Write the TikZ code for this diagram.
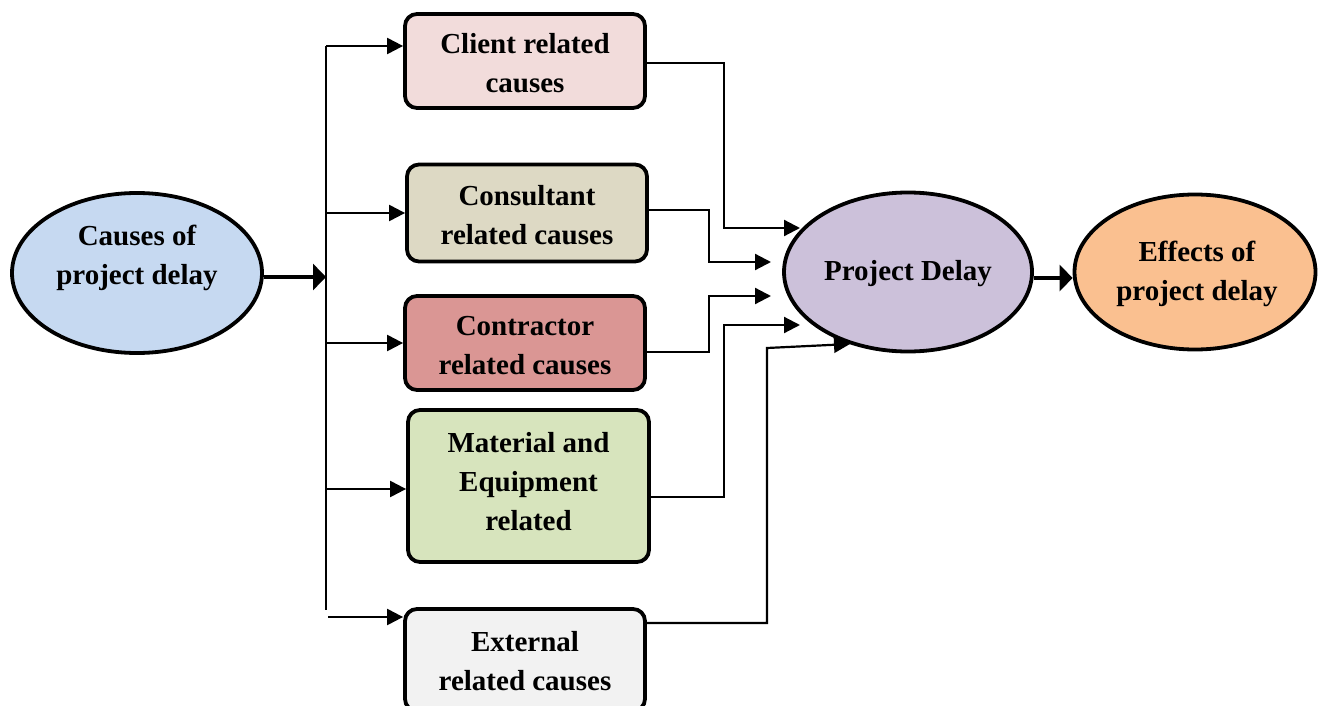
\documentclass[tikz,border=0pt]{standalone}
\usepackage{fontspec}
\setmainfont{Liberation Serif}
\usetikzlibrary{shapes.geometric,arrows.meta,calc}
\definecolor{cCauses}{HTML}{C6D9F1}
\definecolor{cClient}{HTML}{F2DCDB}
\definecolor{cConsult}{HTML}{DDD9C4}
\definecolor{cContr}{HTML}{DA9694}
\definecolor{cMat}{HTML}{D7E4BD}
\definecolor{cExt}{HTML}{F2F2F2}
\definecolor{cPD}{HTML}{CCC1DA}
\definecolor{cEff}{HTML}{FAC090}
\begin{document}
\begin{tikzpicture}[x=1pt,y=-1pt,
  lbl/.style={align=center,inner sep=0pt,font=\fontsize{29}{39}\selectfont\bfseries},
  box/.style={lbl,draw,line width=3.8pt,rounded corners=12pt,minimum width=240pt},
  oval/.style={lbl,ellipse,draw,line width=3.8pt},
  conn/.style={line width=2.2pt,-{Triangle[length=16pt,width=16pt]}},
  bigconn/.style={line width=4.5pt,-{Triangle[length=13pt,width=26pt]}}
]
\useasboundingbox (0,0) rectangle (1324,706);

% left ellipse
\node[oval,fill=cCauses,minimum width=250pt,minimum height=160pt] (causes) at (137,273) {};
\node[lbl] (causestxt) at (137,258) {Causes of\\project delay};

% cause boxes
\node[box,fill=cClient,minimum height=94pt] (client) at (525,61) {};
\node[lbl] (clienttxt) at (525,63) {Client related\\causes};
\node[box,fill=cConsult,minimum height=97pt] (consultant) at (527,213) {};
\node[lbl] (consulttxt) at (527,215) {Consultant\\related causes};
\node[box,fill=cContr,minimum height=94pt] (contractor) at (525,343) {};
\node[lbl] (contrtxt) at (525,346) {Contractor\\related causes};
\node[box,fill=cMat,minimum width=241pt,minimum height=152pt] (material) at (528.5,486) {};
\node[lbl] (mattxt) at (528.5,482) {Material and\\Equipment\\related};
\node[box,fill=cExt,minimum height=102pt] (external) at (525,660) {};
\node[lbl] (exttxt) at (525,661) {External\\related causes};

% right ellipses
\node[oval,fill=cPD,minimum width=248pt,minimum height=159pt] (pd) at (908,272) {};
\node[lbl] (pdtxt) at (908,274) {Project Delay};
\node[oval,fill=cEff,minimum width=241pt,minimum height=155pt] (eff) at (1195,272) {};
\node[lbl] (efftxt) at (1197,274) {Effects of\\project delay};

% trunk
\coordinate (ttop) at (326,46);
\coordinate (tbot) at (326,610);
\coordinate (tin) at (326,277);
\draw[line width=2.2pt] (ttop) -- (tbot);
\draw[bigconn] (causes.east |- tin) -- (tin);

\draw[conn] (ttop) -- ([yshift=15pt]client.west);
\draw[conn] (consultant.west -| ttop) -- (consultant.west);
\draw[conn] (contractor.west -| ttop) -- (contractor.west);
\coordinate (min) at ([yshift=-3pt]material.west);
\draw[conn] (min -| ttop) -- (min);
\coordinate (xin) at ([yshift=43pt]external.west);
\draw[conn] ([xshift=2pt]xin -| tbot) -- (xin);

% into project delay
\coordinate (pd1) at (800,228);
\coordinate (pd2) at (771,262);
\coordinate (pd3) at (771,296);
\coordinate (pd4) at (800,325);
\coordinate (pd5) at (850,344);
\coordinate (k1) at (724,228);
\coordinate (k2) at (709,262);
\coordinate (k3) at (709,296);
\coordinate (k4) at (724,325);
\coordinate (k5) at (767,348);

\draw[conn] ([yshift=-2pt]client.east) -| (k1) -- (pd1);
\draw[conn] ([yshift=3pt]consultant.east) -| (k2) -- (pd2);
\draw[conn] ([yshift=-9pt]contractor.east) -| (k3) -- (pd3);
\draw[conn] ([yshift=-11pt]material.east) -| (k4) -- (pd4);
\draw[conn] ([yshift=37pt]external.east) -| (k5) -- (pd5);

\draw[bigconn] ([yshift=-6pt]pd.east) -- ([yshift=-6pt]eff.west);
\end{tikzpicture}
\end{document}
